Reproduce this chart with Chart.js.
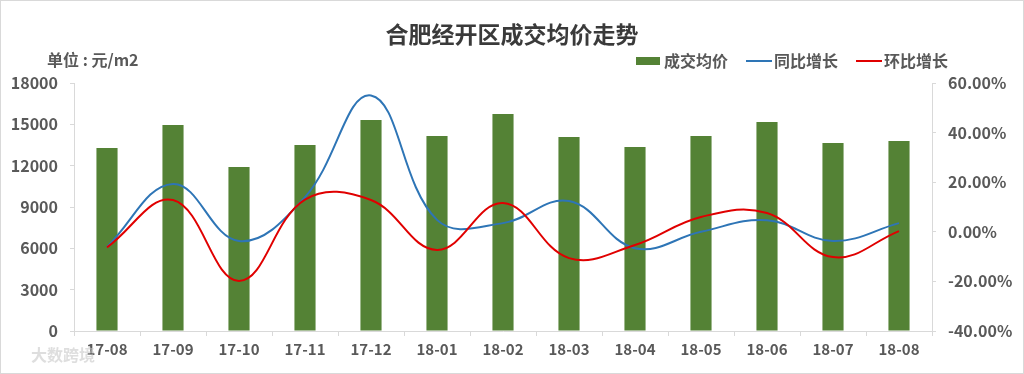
<!DOCTYPE html>
<html>
<head>
<meta charset="utf-8">
<script src="https://cdn.jsdelivr.net/npm/chart.js@4/dist/chart.umd.min.js"></script>
<style>
  html, body { margin: 0; padding: 0; background: #fff; }
  #wrap { width: 1024px; height: 374px; position: relative; box-sizing: border-box; border: 1px solid #d9d9d9; }
  canvas { display: block; }
</style>
</head>
<body>
<div id="wrap"><canvas id="priceChart" width="1022" height="372"></canvas></div>
<script>
const months = ['17-08', '17-09', '17-10', '17-11', '17-12', '18-01', '18-02', '18-03', '18-04', '18-05', '18-06', '18-07', '18-08'];
const avgPrice = [13280, 14950, 11900, 13500, 15310, 14150, 15750, 14080, 13350, 14150, 15170, 13640, 13790];
const yoyGrowth = [-6.1, 19.3, -3.7, 14.0, 55.0, 4.8, 3.5, 12.4, -6.6, 0.0, 4.7, -3.7, 3.5];
const momGrowth = [-6.3, 12.8, -19.8, 13.0, 12.8, -7.3, 11.6, -10.6, -5.3, 6.0, 7.6, -10.2, 0.3];
const leftTicks = [0, 3000, 6000, 9000, 12000, 15000, 18000];
const rightTicks = [-40, -20, 0, 20, 40, 60];

const font = '"Noto Sans CJK SC", "Noto Sans", sans-serif';
const textColor = '#595959';
const axisColor = '#d9d9d9';

const headerPlugin = {
    id: 'header',
    afterDraw(chart) {
        const ctx = chart.ctx;
        ctx.save();
        ctx.fillStyle = '#3a3a3a';
        ctx.font = 'bold 23px ' + font;
        ctx.textAlign = 'center';
        ctx.textBaseline = 'middle';
        ctx.fillText('合肥经开区成交均价走势', 511, 33);

        ctx.fillStyle = textColor;
        ctx.font = 'bold 16px ' + font;
        ctx.textAlign = 'left';
        ctx.fillText('单位 : 元/m2', 46, 59);

        // legend
        const items = chart.data.datasets;
        let x = 635;
        items.forEach((ds, i) => {
            if (i === 0) {
                ctx.fillStyle = ds.backgroundColor;
                ctx.fillRect(x, 56, 24, 8);
            } else {
                ctx.strokeStyle = ds.borderColor;
                ctx.lineWidth = 2;
                ctx.beginPath();
                ctx.moveTo(x, 60);
                ctx.lineTo(x + 26, 60);
                ctx.stroke();
            }
            ctx.fillStyle = textColor;
            ctx.fillText(ds.label, x + 28, 60);
            x += 28 + ctx.measureText(ds.label).width + 18;
        });

        // watermark
        ctx.fillStyle = 'rgba(200,200,200,0.6)';
        ctx.font = 'bold 16px ' + font;
        ctx.fillText('大数跨境', 30, 354);
        ctx.restore();
    }
};

new Chart(document.getElementById('priceChart'), {
    data: {
        labels: months,
        datasets: [
            {
                type: 'bar',
                label: '成交均价',
                data: avgPrice,
                backgroundColor: '#548235',
                yAxisID: 'y',
                barPercentage: 0.32,
                categoryPercentage: 1.0,
                order: 2
            },
            {
                type: 'line',
                label: '同比增长',
                data: yoyGrowth,
                borderColor: '#2E75B6',
                borderWidth: 2,
                pointRadius: 0,
                tension: 0.4,
                yAxisID: 'y1',
                order: 1
            },
            {
                type: 'line',
                label: '环比增长',
                data: momGrowth,
                borderColor: '#E00000',
                borderWidth: 2,
                pointRadius: 0,
                tension: 0.4,
                yAxisID: 'y1',
                order: 0
            }
        ]
    },
    options: {
        responsive: false,
        animation: false,
        layout: {
            padding: { top: 82, left: 0, right: 0, bottom: 0 }
        },
        plugins: {
            legend: { display: false },
            title: { display: false },
            tooltip: { enabled: false }
        },
        scales: {
            x: {
                grid: {
                    display: true,
                    offset: true,
                    drawOnChartArea: false,
                    color: axisColor,
                    tickLength: 5
                },
                border: { color: axisColor },
                ticks: {
                    color: textColor,
                    font: { family: font, size: 15, weight: 'bold' },
                    padding: 4,
                    maxRotation: 0
                },
                afterFit(scale) { scale.height = 42; }
            },
            y: {
                position: 'left',
                min: 0,
                max: 18000,
                afterBuildTicks(scale) { scale.ticks = leftTicks.map(v => ({ value: v })); },
                grid: {
                    display: true,
                    drawOnChartArea: false,
                    color: axisColor,
                    tickLength: 4
                },
                border: { color: axisColor },
                ticks: {
                    color: textColor,
                    font: { family: font, size: 16, weight: 'bold' },
                    padding: 12,
                    callback: v => String(v)
                },
                afterFit(scale) { scale.width = 73; }
            },
            y1: {
                position: 'right',
                min: -40,
                max: 60,
                afterBuildTicks(scale) { scale.ticks = rightTicks.map(v => ({ value: v })); },
                grid: {
                    display: true,
                    drawOnChartArea: false,
                    color: axisColor,
                    tickLength: 4
                },
                border: { color: axisColor },
                ticks: {
                    color: textColor,
                    font: { family: font, size: 16, weight: 'bold' },
                    padding: 12,
                    callback: v => v.toFixed(2) + '%'
                },
                afterFit(scale) { scale.width = 91; }
            }
        }
    },
    plugins: [headerPlugin]
});
</script>
</body>
</html>
